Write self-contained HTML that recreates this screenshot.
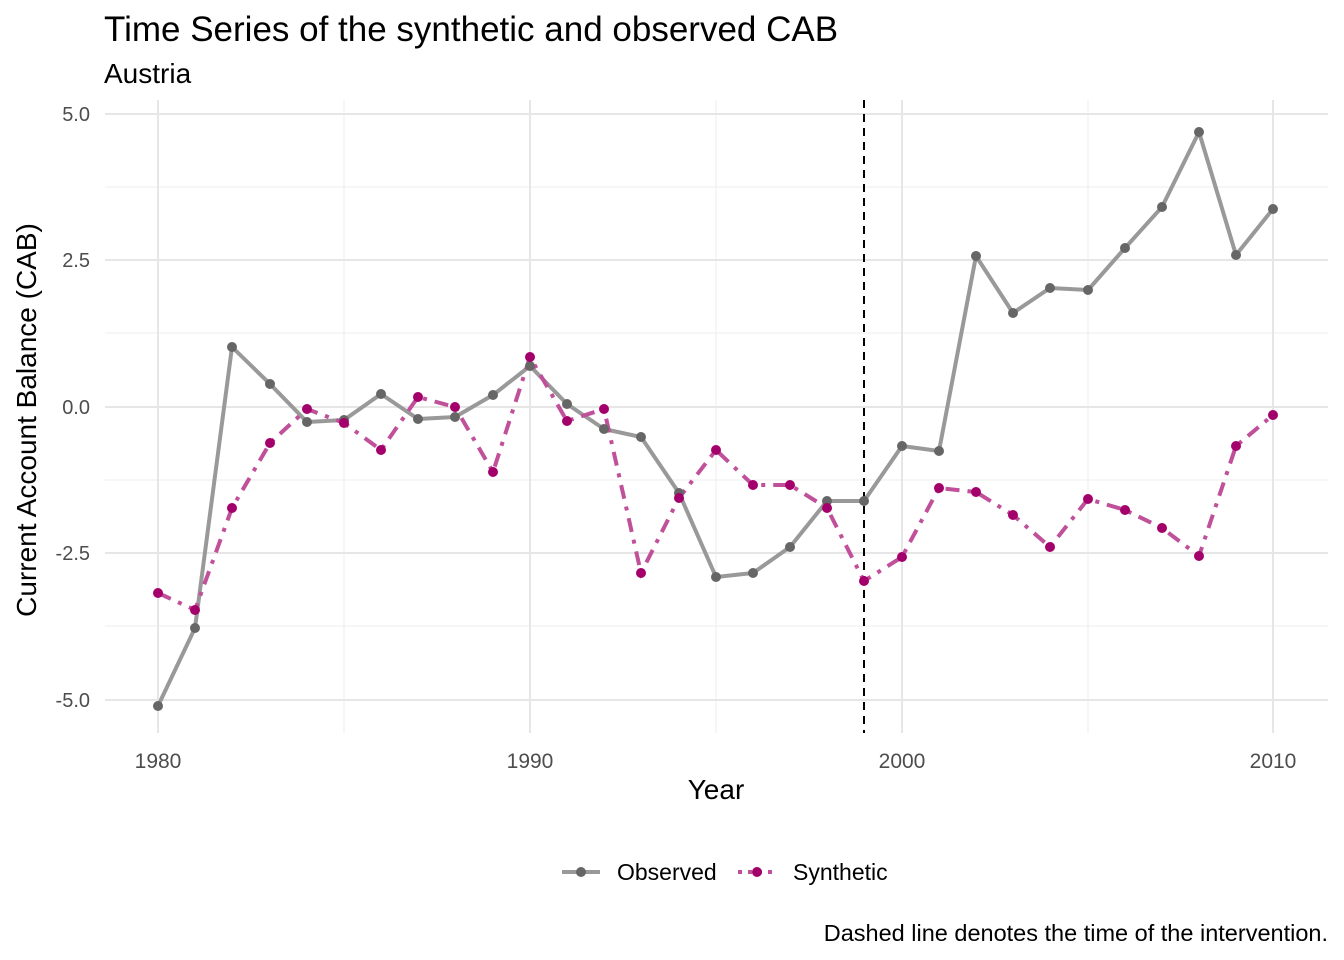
<!DOCTYPE html>
<html><head><style>body{margin:0;background:#fff}svg{display:block}</style></head><body>
<svg width="1344" height="960" xmlns="http://www.w3.org/2000/svg" font-family="Liberation Sans, Arial, sans-serif">
<rect width="1344" height="960" fill="#fff"/>
<g stroke="#f0f0f0" stroke-width="1.2">
<line x1="344" y1="100" x2="344" y2="733"/><line x1="716" y1="100" x2="716" y2="733"/><line x1="1088" y1="100" x2="1088" y2="733"/>
<line x1="105" y1="187" x2="1328" y2="187"/><line x1="105" y1="333" x2="1328" y2="333"/><line x1="105" y1="480" x2="1328" y2="480"/><line x1="105" y1="626" x2="1328" y2="626"/>
</g>
<g stroke="#e6e6e6" stroke-width="2">
<line x1="158" y1="100" x2="158" y2="733"/><line x1="530" y1="100" x2="530" y2="733"/><line x1="902" y1="100" x2="902" y2="733"/><line x1="1273" y1="100" x2="1273" y2="733"/>
<line x1="105" y1="114" x2="1328" y2="114"/><line x1="105" y1="260" x2="1328" y2="260"/><line x1="105" y1="407" x2="1328" y2="407"/><line x1="105" y1="553" x2="1328" y2="553"/><line x1="105" y1="700" x2="1328" y2="700"/>
</g>
<line x1="864" y1="100" x2="864" y2="733" stroke="#000" stroke-width="2" stroke-dasharray="8,6"/>
<polyline fill="none" stroke="#999" stroke-width="4" stroke-linejoin="round" points="158,706 195,628 232,347 270,384 307,422 344,420 381,394 418,419 455,417 493,395 530,366 567,404 604,429 641,437 679,493 716,577 753,573 790,547 827,501 864,501 902,446 939,451 976,256 1013,313 1050,288 1088,290 1125,248 1162,207 1199,132 1236,255 1273,209"/>
<polyline fill="none" stroke="#c0509a" stroke-width="4" stroke-dasharray="14,8,4,8" points="158,593 195,610 232,508 270,443 307,409 344,423 381,450 418,397 455,407 493,472 530,357 567,421 604,409 641,573 679,498 716,450 753,485 790,485 827,508 864,581 902,557 939,488 976,492 1013,515 1050,547 1088,499 1125,510 1162,528 1199,556 1236,446 1273,415"/>
<g fill="#666">
<circle cx="158" cy="706" r="5"/><circle cx="195" cy="628" r="5"/><circle cx="232" cy="347" r="5"/><circle cx="270" cy="384" r="5"/><circle cx="307" cy="422" r="5"/><circle cx="344" cy="420" r="5"/><circle cx="381" cy="394" r="5"/><circle cx="418" cy="419" r="5"/><circle cx="455" cy="417" r="5"/><circle cx="493" cy="395" r="5"/><circle cx="530" cy="366" r="5"/><circle cx="567" cy="404" r="5"/><circle cx="604" cy="429" r="5"/><circle cx="641" cy="437" r="5"/><circle cx="679" cy="493" r="5"/><circle cx="716" cy="577" r="5"/><circle cx="753" cy="573" r="5"/><circle cx="790" cy="547" r="5"/><circle cx="827" cy="501" r="5"/><circle cx="864" cy="501" r="5"/><circle cx="902" cy="446" r="5"/><circle cx="939" cy="451" r="5"/><circle cx="976" cy="256" r="5"/><circle cx="1013" cy="313" r="5"/><circle cx="1050" cy="288" r="5"/><circle cx="1088" cy="290" r="5"/><circle cx="1125" cy="248" r="5"/><circle cx="1162" cy="207" r="5"/><circle cx="1199" cy="132" r="5"/><circle cx="1236" cy="255" r="5"/><circle cx="1273" cy="209" r="5"/>
</g>
<g fill="#a3006b">
<circle cx="158" cy="593" r="5"/><circle cx="195" cy="610" r="5"/><circle cx="232" cy="508" r="5"/><circle cx="270" cy="443" r="5"/><circle cx="307" cy="409" r="5"/><circle cx="344" cy="423" r="5"/><circle cx="381" cy="450" r="5"/><circle cx="418" cy="397" r="5"/><circle cx="455" cy="407" r="5"/><circle cx="493" cy="472" r="5"/><circle cx="530" cy="357" r="5"/><circle cx="567" cy="421" r="5"/><circle cx="604" cy="409" r="5"/><circle cx="641" cy="573" r="5"/><circle cx="679" cy="498" r="5"/><circle cx="716" cy="450" r="5"/><circle cx="753" cy="485" r="5"/><circle cx="790" cy="485" r="5"/><circle cx="827" cy="508" r="5"/><circle cx="864" cy="581" r="5"/><circle cx="902" cy="557" r="5"/><circle cx="939" cy="488" r="5"/><circle cx="976" cy="492" r="5"/><circle cx="1013" cy="515" r="5"/><circle cx="1050" cy="547" r="5"/><circle cx="1088" cy="499" r="5"/><circle cx="1125" cy="510" r="5"/><circle cx="1162" cy="528" r="5"/><circle cx="1199" cy="556" r="5"/><circle cx="1236" cy="446" r="5"/><circle cx="1273" cy="415" r="5"/>
</g>
<g fill="#4d4d4d" font-size="20" text-anchor="end">
<text x="90" y="121">5.0</text><text x="90" y="267">2.5</text><text x="90" y="414">0.0</text><text x="90" y="560">-2.5</text><text x="90" y="707">-5.0</text>
</g>
<g fill="#4d4d4d" font-size="21" text-anchor="middle">
<text x="158" y="768">1980</text><text x="530" y="768">1990</text><text x="902" y="768">2000</text><text x="1273" y="768">2010</text>
</g>
<text x="716" y="799" font-size="28" text-anchor="middle">Year</text>
<text transform="translate(36,420) rotate(-90)" font-size="28" text-anchor="middle">Current Account Balance (CAB)</text>
<text x="104" y="41" font-size="35">Time Series of the synthetic and observed CAB</text>
<text x="104" y="83" font-size="28">Austria</text>
<line x1="562" y1="872" x2="600" y2="872" stroke="#999" stroke-width="4"/><circle cx="581" cy="872" r="5" fill="#666"/>
<text x="617" y="880" font-size="23">Observed</text>
<line x1="738" y1="872" x2="776" y2="872" stroke="#c0509a" stroke-width="4" stroke-dasharray="4,6"/><circle cx="757" cy="872" r="5" fill="#a3006b"/>
<text x="793" y="880" font-size="23">Synthetic</text>
<text x="1328" y="941" font-size="23.5" text-anchor="end">Dashed line denotes the time of the intervention.</text>
</svg>
</body></html>
